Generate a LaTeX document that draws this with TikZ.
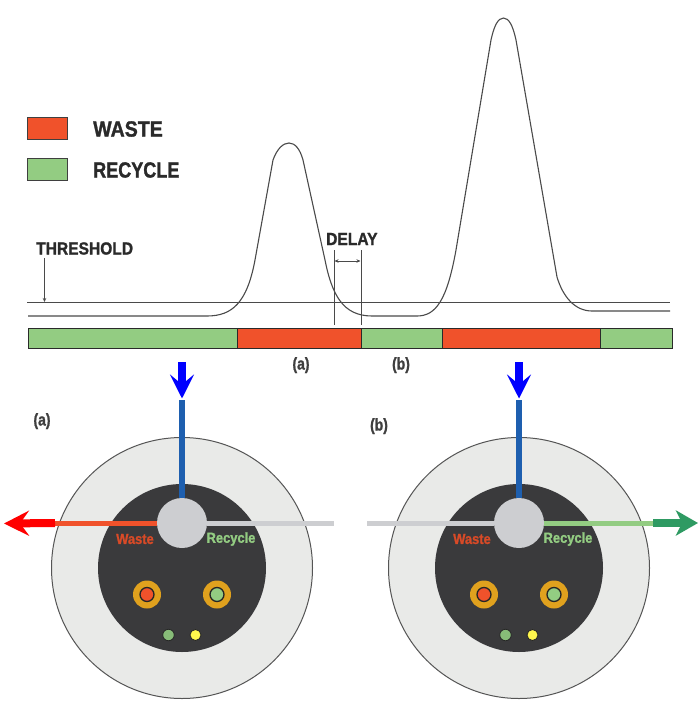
\documentclass[tikz,border=0pt]{standalone}
\usepackage{fontspec}
\setmainfont{Liberation Sans}
\newfontfamily\cond[FakeStretch=0.82,BoldFont={Liberation Sans Bold},BoldFeatures={FakeStretch=0.82,FakeBold=1.2}]{Liberation Sans}
\newfontfamily\condw[FakeStretch=0.89,BoldFont={Liberation Sans Bold},BoldFeatures={FakeStretch=0.89,FakeBold=1.2}]{Liberation Sans}
\usetikzlibrary{arrows.meta}
\definecolor{cwaste}{HTML}{F0522B}
\definecolor{crecycle}{HTML}{93CC82}
\definecolor{cdark}{HTML}{3A3A3C}
\definecolor{cplate}{HTML}{E9EAE8}
\definecolor{chub}{HTML}{CDCED1}
\definecolor{cpipe}{HTML}{1E5FAF}
\definecolor{cring}{HTML}{E0A11E}
\definecolor{cink}{HTML}{2A2A2A}
\definecolor{cgarrow}{HTML}{2E9A62}
\tikzset{
  x=1pt,y=-1pt,
  legendbox/.style={draw=cink!90,line width=1pt},
  stripbox/.style={draw=cink,line width=1.1pt},
  thin line/.style={draw=cink!85,line width=0.9pt},
  lab/.style={text=cink,inner sep=0pt,anchor=west},
  tag/.style={font=\cond\bfseries\fontsize{17}{17}\selectfont,text=cink!90,inner sep=0pt,anchor=base},
  disc/.style={circle,inner sep=0pt,minimum size=#1},
  pipe/.style={line width=5pt},
  feedarrow/.style={line width=8pt,blue,-{Stealth[length=24pt,width=24pt,inset=10pt]}},
  portlabel/.style={font=\condw\bfseries\fontsize{14.5}{14.5}\selectfont,inner sep=0pt},
  ring/.style={disc=28pt,fill=cring},
}
\newcommand{\valveface}[2]{%
  % #1 name prefix, #2 centre x
  \node[disc=261pt,fill=cplate,draw=cink!80,line width=1pt] (#1plate) at (#2,568) {};
  \node[disc=168pt,fill=cdark] (#1face) at (#2,568) {};
  \node[ring] (#1rw) at (#2-35,594.5) {};
  \node[ring] (#1rr) at (#2+35,594.5) {};
  \node[disc=14pt,fill=cwaste,draw=black!85,line width=1.3pt] (#1pw) at (#1rw) {};
  \node[disc=14pt,fill=crecycle,draw=black!85,line width=1.3pt] (#1pr) at (#1rr) {};
  \node[disc=11.5pt,fill=crecycle!92!black,draw=black!85,line width=0.8pt] (#1ledg) at (#2-13.5,635) {};
  \node[disc=11pt,fill=yellow!70!white,draw=black!85,line width=0.8pt] (#1ledy) at (#2+13.5,635) {};
  \node[disc=50pt,fill=chub] (#1hub) at (#2,523) {};
  \coordinate (#1top) at (#2,400);
  \coordinate (#1ftop) at (#2,362);
  \draw[pipe,cpipe,line width=6.5pt] (#1top) -- (#1hub.north);
  \draw[feedarrow] (#1ftop) -- (#2,398.5);
  \node[portlabel,text=cwaste!90!black] (#1wl) at (#2-47,539) {Waste};
  \node[portlabel,text=crecycle] (#1rl) at (#2+49,539) {Recycle};
}
\begin{document}
\begin{tikzpicture}
\useasboundingbox[fill=white] (0,0) rectangle (700,715);
% legend
\node[legendbox,fill=cwaste,minimum width=40pt,minimum height=22pt,inner sep=0pt,anchor=north west] (lw) at (27,117) {};
\node[legendbox,fill=crecycle,minimum width=40pt,minimum height=22pt,inner sep=0pt,anchor=north west] (lr) at (27,158) {};
\node[lab,font=\condw\bfseries\fontsize{22}{22}\selectfont] (lwt) at (93,129) {WASTE};
\node[lab,font=\cond\bfseries\fontsize{22}{22}\selectfont] (lrt) at (93,170) {RECYCLE};
% threshold
\node[lab,font=\condw\bfseries\fontsize{17.5}{17.5}\selectfont] (th) at (36,248.5) {THRESHOLD};
\coordinate (thL) at (27,302);
\coordinate (thR) at (670,302);
\coordinate (thA) at (44.5,258);
\coordinate (thB) at (44.5,302);
\draw[thin line] (thL) -- (thR);
\draw[thin line,line width=0.8pt,-{Stealth[length=4pt,width=3.5pt]}] (thA) -- (thB);
% signal
\draw[draw=cink!85,line width=1.1pt,line join=round]
  (28,316) -- (207,316) .. controls (232,316) and (247,303) .. (255,260)
  -- (273,160) .. controls (277,149) and (283,143) .. (289,143)
  .. controls (295,143) and (300,149) .. (303,160)
  -- (325,260) .. controls (332,295) and (343,316) .. (372,316)
  -- (417,316) .. controls (436,316) and (447,300) .. (456,250)
  -- (491,40) .. controls (494,26) and (498,18) .. (503.5,18)
  .. controls (509,18) and (513,26) .. (516,40)
  -- (557,277) .. controls (563,297) and (575,311) .. (592,311)
  -- (670,311);
% strip
\node[stripbox,fill=crecycle,minimum width=209pt,minimum height=20pt,inner sep=0pt,anchor=north west] (s1) at (28,328) {};
\node[stripbox,fill=cwaste,minimum width=124pt,minimum height=20pt,inner sep=0pt,anchor=north west] (s2) at (237,328) {};
\node[stripbox,fill=crecycle,minimum width=81pt,minimum height=20pt,inner sep=0pt,anchor=north west] (s3) at (361,328) {};
\node[stripbox,fill=cwaste,minimum width=158pt,minimum height=20pt,inner sep=0pt,anchor=north west] (s4) at (442,328) {};
\node[stripbox,fill=crecycle,minimum width=72pt,minimum height=20pt,inner sep=0pt,anchor=north west] (s5) at (600,328) {};
% delay
\node[lab,font=\condw\bfseries\fontsize{17.5}{17.5}\selectfont] (dl) at (326,239) {DELAY};
\coordinate (d1a) at (334,250); \coordinate (d1b) at (334,325);
\coordinate (d2a) at (361,250); \coordinate (d2b) at (361,325);
\coordinate (dm1) at (334.5,261); \coordinate (dm2) at (360.5,261);
\draw[thin line,line width=1pt] (d1a) -- (d1b);
\draw[thin line,line width=1pt] (d2a) -- (d2b);
\draw[thin line,line width=0.8pt,{Stealth[length=4pt,width=3.5pt]}-{Stealth[length=4pt,width=3.5pt]}] (dm1) -- (dm2);
% tags
\node[tag] (ta) at (301,369.5) {(a)};
\node[tag] (tb) at (401,369.5) {(b)};
\node[tag] (tc) at (42,425.5) {(a)};
\node[tag] (td) at (379,430.5) {(b)};
% left valve
\valveface{a}{182}
\coordinate (aend) at (55,523);
\coordinate (atip) at (4,523.5);
\coordinate (agrey) at (334,523);
\draw[pipe,cwaste] (ahub.west) -- (aend);
\draw[pipe,chub] (ahub.east) -- (agrey);
\draw[line width=8pt,red,-{Stealth[length=25pt,width=25pt,inset=9pt]}] (aend) -- (atip);
% right valve
\valveface{b}{519}
\coordinate (bgrey) at (367,523);
\coordinate (bend) at (653,523);
\coordinate (btip) at (698,523);
\draw[pipe,chub] (bhub.west) -- (bgrey);
\draw[pipe,crecycle] (bhub.east) -- (bend);
\draw[line width=8pt,cgarrow,-{Stealth[length=22pt,width=25pt,inset=6pt]}] (bend) -- (btip);
\end{tikzpicture}
\end{document}
